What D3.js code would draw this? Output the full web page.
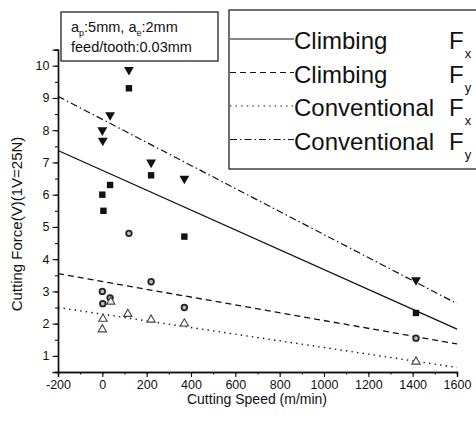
<!DOCTYPE html>
<html>
<head>
<meta charset="utf-8">
<script src="https://cdn.jsdelivr.net/npm/d3@7"></script>
<style>
  html, body { margin: 0; padding: 0; background: #fff; }
  svg { display: block; font-family: "Liberation Sans", Arial, sans-serif; }
</style>
</head>
<body>
<div id="chart"></div>
<script>
// ── Data ────────────────────────────────────────
const climbFx = [[0,6.0],[5,5.5],[35,6.3],[120,9.3],[220,6.6],[370,4.7],[1415,2.33]];
const convFy  = [[0,8.0],[2,7.68],[35,8.47],[120,9.87],[220,7.0],[370,6.5],[1415,3.35]];
const climbFy = [[0,3.0],[2,2.62],[35,2.8],[120,4.8],[220,3.3],[370,2.5],[1415,1.55]];
const convFx  = [[3,2.15],[0,1.82],[38,2.68],[115,2.3],[220,2.12],[370,2.0],[1415,0.82]];

const fitX      = [-200, 1600];
const climbFxFit = [7.37, 1.83];
const climbFyFit = [3.55, 1.37];
const convFxFit  = [2.50, 0.64];
const convFyFit  = [9.05, 2.62];

const xTicks = [-200,0,200,400,600,800,1000,1200,1400,1600];
const yTicks = [1,2,3,4,5,6,7,8,9,10];

const legendLabels = ["Climbing", "Climbing", "Conventional", "Conventional"];
const legendSubs   = ["x", "y", "x", "y"];

(function () {
  const W = 476, H = 425;
  const INK = "#111";

  const svg = d3.select("#chart").append("svg").attr("width", W).attr("height", H);
  svg.append("rect").attr("width", W).attr("height", H).attr("fill", "#fff");

  const x = d3.scaleLinear().domain([-200, 1600]).range([58, 457]);
  const y = d3.scaleLinear().domain([0.5, 10.5]).range([372, 49.6]);

  // plain hyphen minus, no thousands separator
  const fmt = d => String(d);

  // ── Axes ──────────────────────────────────────
  const xMinor = d3.range(-200, 1601, 100);
  const yMinor = d3.range(0.5, 10.51, 0.5);

  const xa = svg.append("g").attr("transform", `translate(0,${y(0.5)})`);
  xa.append("g").call(d3.axisBottom(x).tickValues(xMinor).tickSize(2.5).tickFormat(""));
  xa.append("g").call(d3.axisBottom(x).tickValues(xTicks).tickSize(5).tickPadding(3).tickFormat(fmt));

  const ya = svg.append("g").attr("transform", `translate(${x(-200)},0)`);
  ya.append("g").call(d3.axisLeft(y).tickValues(yMinor).tickSize(3).tickFormat(""));
  ya.append("g").call(d3.axisLeft(y).tickValues(yTicks).tickSize(5.5).tickPadding(3).tickFormat(fmt));

  svg.selectAll(".domain").attr("stroke", INK).attr("stroke-width", 1.4);
  svg.selectAll(".tick line").attr("stroke", INK).attr("stroke-width", 1.1);
  svg.selectAll(".tick text").attr("fill", INK).attr("font-size", "12.5px")
    .attr("font-family", "'Liberation Sans', Arial, sans-serif");

  svg.append("text").attr("x", 257).attr("y", 404).attr("text-anchor", "middle")
    .attr("font-size", "14px").attr("fill", INK).text("Cutting Speed (m/min)");
  svg.append("text").attr("transform", "translate(22,224) rotate(-90)")
    .attr("text-anchor", "middle").attr("font-size", "15px").attr("fill", INK)
    .text("Cutting Force(V)(1V=25N)");

  // ── Fit lines ─────────────────────────────────
  const fits = [
    { vals: climbFxFit, dash: null,          w: 1.3 },
    { vals: climbFyFit, dash: "6,4",         w: 1.3 },
    { vals: convFxFit,  dash: "1.4,4.2",     w: 1.4 },
    { vals: convFyFit,  dash: "7,3,1.5,3",   w: 1.2 },
  ];
  const line = d3.line().x(d => x(d[0])).y(d => y(d[1]));
  fits.forEach(f => {
    svg.append("path")
      .datum(fitX.map((xv, i) => [xv, f.vals[i]]))
      .attr("d", line).attr("fill", "none").attr("stroke", INK)
      .attr("stroke-width", f.w).attr("stroke-dasharray", f.dash);
  });

  // ── Markers ───────────────────────────────────
  svg.selectAll(".sq").data(climbFx).join("rect").attr("class", "sq")
    .attr("x", d => x(d[0]) - 3.2).attr("y", d => y(d[1]) - 3.2)
    .attr("width", 6.4).attr("height", 6.4).attr("fill", INK);

  const tri = d3.symbol().type(d3.symbolTriangle).size(42);
  svg.selectAll(".tdown").data(convFy).join("path").attr("class", "tdown")
    .attr("d", tri)
    .attr("transform", d => `translate(${x(d[0])},${y(d[1])}) rotate(180)`)
    .attr("fill", INK);

  svg.selectAll(".circ").data(climbFy).join("circle").attr("class", "circ")
    .attr("cx", d => x(d[0])).attr("cy", d => y(d[1])).attr("r", 2.8)
    .attr("fill", "#bbb").attr("stroke", "#222").attr("stroke-width", 1.8);

  const triUp = d3.symbol().type(d3.symbolTriangle).size(30);
  svg.selectAll(".tup").data(convFx).join("path").attr("class", "tup")
    .attr("d", triUp)
    .attr("transform", d => `translate(${x(d[0])},${y(d[1])})`)
    .attr("fill", "#fff").attr("stroke", "#444").attr("stroke-width", 1.1);

  // ── Info box ──────────────────────────────────
  svg.append("rect").attr("x", 61).attr("y", 12).attr("width", 157).attr("height", 49)
    .attr("fill", "#fff").attr("stroke", INK).attr("stroke-width", 1.2);
  const t1 = svg.append("text").attr("x", 71).attr("y", 32)
    .attr("font-size", "14.5px").attr("fill", INK);
  t1.append("tspan").text("a");
  t1.append("tspan").attr("font-size", "9px").attr("dy", 4).text("p");
  t1.append("tspan").attr("dy", -4).text(":5mm, a");
  t1.append("tspan").attr("font-size", "9px").attr("dy", 4).text("e");
  t1.append("tspan").attr("dy", -4).text(":2mm");
  svg.append("text").attr("x", 71).attr("y", 52)
    .attr("font-size", "14.5px").attr("fill", INK).text("feed/tooth:0.03mm");

  // ── Legend ────────────────────────────────────
  svg.append("rect").attr("x", 229).attr("y", 10).attr("width", 260).attr("height", 159)
    .attr("fill", "#fff").attr("stroke", INK).attr("stroke-width", 1.2);
  const rowY = [49, 82.5, 116, 149.5];
  legendLabels.forEach((lab, i) => {
    const by = rowY[i];
    svg.append("line").attr("x1", 230).attr("x2", 294)
      .attr("y1", by - 10).attr("y2", by - 10)
      .attr("stroke", INK).attr("stroke-width", 1.1)
      .attr("stroke-dasharray", fits[i].dash);
    svg.append("text").attr("x", 294).attr("y", by)
      .attr("font-size", "24px").attr("fill", INK).text(lab);
    const f = svg.append("text").attr("x", 449).attr("y", by)
      .attr("font-size", "24px").attr("fill", INK);
    f.append("tspan").text("F");
    f.append("tspan").attr("font-size", "13px").attr("dx", 1).attr("dy", 9).text(legendSubs[i]);
  });
})();
</script>
</body>
</html>
